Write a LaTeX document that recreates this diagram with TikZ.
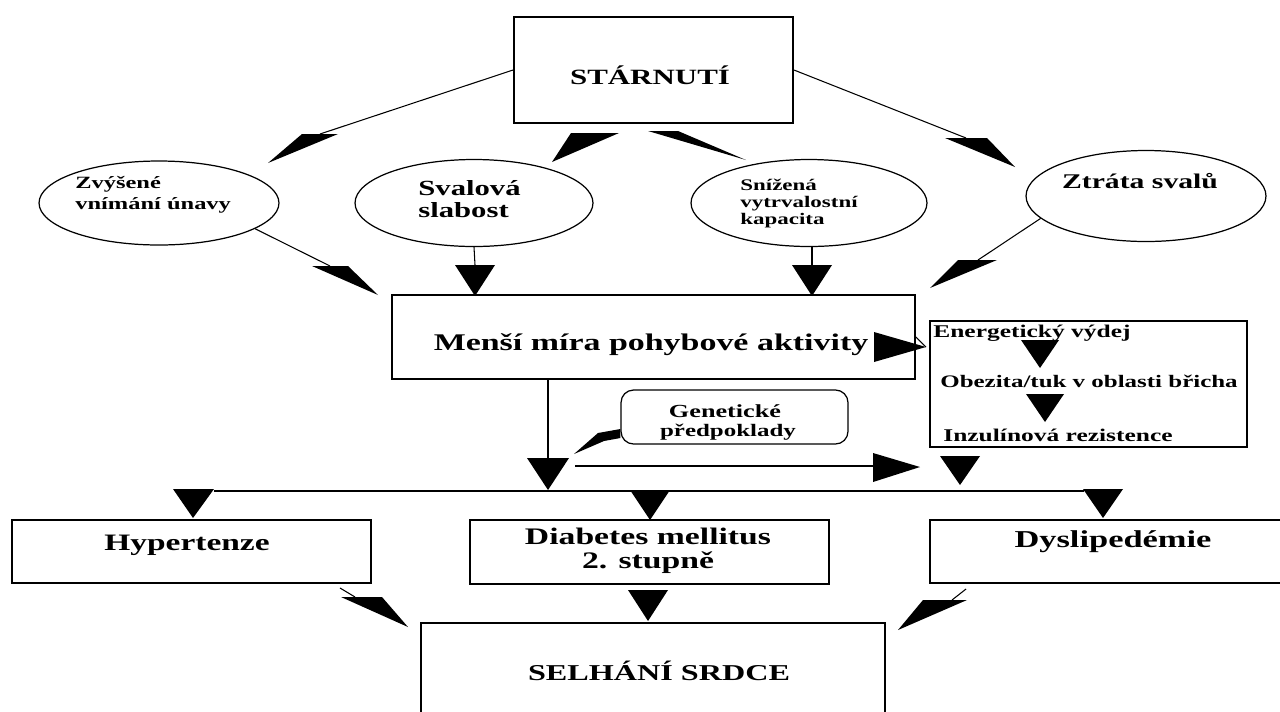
\documentclass[tikz,border=0pt]{standalone}
\usepackage{fontspec}
\setmainfont{Liberation Serif}[FakeStretch=1.42]
\usetikzlibrary{shapes.geometric}
\newcommand\fsz[1]{\fontsize{#1}{#1}\selectfont}
\begin{document}
\begin{tikzpicture}[x=0.02cm,y=-0.02cm,
  box/.style={draw, line width=1.1pt, inner sep=0},
  oval/.style={draw, ellipse, line width=0.7pt, inner sep=0},
  conn/.style={line width=0.6pt},
  head/.style={fill=black},
  txt/.style={inner sep=0, anchor=base, font=\bfseries\fsz{#1}},
  txtl/.style={inner sep=0, anchor=base west, font=\bfseries\fsz{#1}},
]
\fill[white] (0,0) rectangle (1280,711);
\useasboundingbox (0,0) rectangle (1280,711);

% ---------- boxes ----------
\node[box, minimum width=5.58cm, minimum height=2.12cm] (start) at (653.5,70) {};
\node[txt=12.4pt] (startT) at (650,84) {STÁRNUTÍ};

\node[box, minimum width=10.46cm, minimum height=1.68cm] (less) at (653.5,337) {};
\node[txt=13.6pt] (lessT) at (651,350) {Menší míra pohybové aktivity};

\node[box, minimum width=6.34cm, minimum height=2.52cm] (energ) at (1088.5,384) {};
\node[txtl=10.2pt] (en1) at (933,337) {Energetický výdej};
\node[txtl=10pt] (en2) at (940,387) {Obezita/tuk v oblasti břicha};
\node[txtl=10.2pt] (en3) at (943,441) {Inzulínová rezistence};

\node[draw, line width=0.7pt, rounded corners=0.25cm, inner sep=0,
      minimum width=4.54cm, minimum height=1.08cm] (gen) at (734.5,417) {};
\node[txt=10.5pt] (gen1) at (725,417) {Genetické};
\node[txt=10pt] (gen2) at (728,436) {předpoklady};

\node[box, minimum width=7.18cm, minimum height=1.26cm] (hyper) at (191.5,551.5) {};
\node[txt=13.4pt] (hyperT) at (187,550) {Hypertenze};

\node[box, minimum width=7.18cm, minimum height=1.28cm] (diab) at (649.5,552) {};
\node[txt=13.5pt] (diab1) at (648,544) {Diabetes mellitus};
\node[txt=13.5pt] (diab2) at (648,568) {2. stupně};

\node[box, minimum width=7.2cm, minimum height=1.26cm] (dys) at (1110,551.5) {};
\node[txt=13.8pt] (dysT) at (1113,547) {Dyslipedémie};

\node[box, minimum width=9.28cm, minimum height=2.14cm] (selh) at (653,676.5) {};
\node[txt=12.9pt] (selhT) at (659,680) {SELHÁNÍ SRDCE};

% ---------- ellipses ----------
\node[oval, minimum width=4.8cm, minimum height=1.68cm] (e1) at (159,203) {};
\node[txtl=9.8pt] (e1a) at (75,188) {Zvýšené};
\node[txtl=9.8pt] (e1b) at (75,209) {vnímání únavy};

\node[oval, minimum width=4.76cm, minimum height=1.74cm] (e2) at (474,203) {};
\node[txtl=12.3pt] (e2a) at (418,195) {Svalová};
\node[txtl=12.3pt] (e2b) at (418,217) {slabost};

\node[oval, minimum width=4.72cm, minimum height=1.74cm] (e3) at (809,203) {};
\node[txtl=9.2pt] (e3a) at (740,190) {Snížená};
\node[txtl=9.2pt] (e3b) at (740,207) {vytrvalostní};
\node[txtl=9.2pt] (e3c) at (740,224) {kapacita};

\node[oval, minimum width=4.8cm, minimum height=1.82cm] (e4) at (1146,196) {};
\node[txt=11.9pt] (e4a) at (1140,188) {Ztráta svalů};

% ---------- connectors: ageing -> ellipses ----------
\coordinate (t1) at (268,163);
\draw[conn] (start.west) -- (320,134);
\fill[head] (302,134) -- (338,134) -- (t1) -- cycle;

\coordinate (t2) at (552,162);
\fill[head] (571,133) -- (619,133) -- (t2) -- cycle;

\coordinate (t3) at (746,160);
\fill[head] (648,131) -- (678,131) -- (t3) -- cycle;

\coordinate (t4) at (1015,167);
\draw[conn] (start.east) -- (966,138);
\fill[head] (945,138) -- (987,138) -- (t4) -- cycle;

% ---------- ellipses -> less activity ----------
\coordinate (t5) at (378,295);
\draw[conn] (e1.-15) -- (330,266);
\fill[head] (312,266) -- (348,266) -- (t5) -- cycle;

\coordinate (t6) at (475,296);
\draw[conn] (e2.south) -- (475,265);
\fill[head] (455,265) -- (495,265) -- (t6) -- cycle;

\coordinate (t7) at (812,296);
\draw[conn] (e3.south -| t7) -- (812,265);
\fill[head] (792,265) -- (832,265) -- (t7) -- cycle;

\coordinate (t8) at (930,288);
\draw[conn] (e4.192) -- (978,260);
\fill[head] (958,260) -- (997,260) -- (t8) -- cycle;

% ---------- less activity -> energy box ----------
\coordinate (t9) at (926,347);
\draw[conn] (less.east) -- (t9);
\fill[head] (874,332) -- (874,362) -- (t9) -- cycle;

\coordinate (t10) at (1040,368);
\fill[head] (1021,340) -- (1059,340) -- (t10) -- cycle;
\coordinate (t11) at (1045,422);
\fill[head] (1026,394) -- (1064,394) -- (t11) -- cycle;

% ---------- junction ----------
\coordinate (jt) at (548,490);
\draw[conn] (jt |- less.south) -- (548,458);
\fill[head] (527,458) -- (569,458) -- (jt) -- cycle;

\coordinate (t12) at (574,454);
\fill[head] (gen.west |- 0,429) -- (gen.west |- 0,438) -- (604,441) -- (t12) -- (598,433) -- cycle;

\coordinate (t13) at (920,467);
\draw[conn] (575,466) -- (874,466);
\fill[head] (873,453) -- (873,482) -- (t13) -- cycle;

\coordinate (t14) at (960,485);
\fill[head] (940,456) -- (980,456) -- (t14) -- cycle;

% ---------- distribution line ----------
\coordinate (th) at (193,518);
\coordinate (td) at (650,520);
\coordinate (ty) at (1103,518);
\draw[conn] (214,491) -- (1084,491);
\fill[head] (173,489) -- (214,489) -- (th) -- cycle;
\fill[head] (630,490) -- (670,490) -- (td) -- cycle;
\fill[head] (1083,489) -- (1123,489) -- (ty) -- cycle;

% ---------- to heart failure ----------
\coordinate (t15) at (408,627);
\draw[conn] ([xshift=-0.64cm,yshift=-0.08cm]hyper.south east) -- (355,597);
\fill[head] (341,597) -- (382,597) -- (t15) -- cycle;

\coordinate (t16) at (648,621);
\fill[head] (628,590) -- (668,590) -- (t16) -- cycle;

\coordinate (t17) at (898,630);
\draw[conn] ([xshift=0.74cm,yshift=-0.1cm]dys.south west) -- (952,600);
\fill[head] (923,600) -- (967,600) -- (t17) -- cycle;
\end{tikzpicture}
\end{document}
